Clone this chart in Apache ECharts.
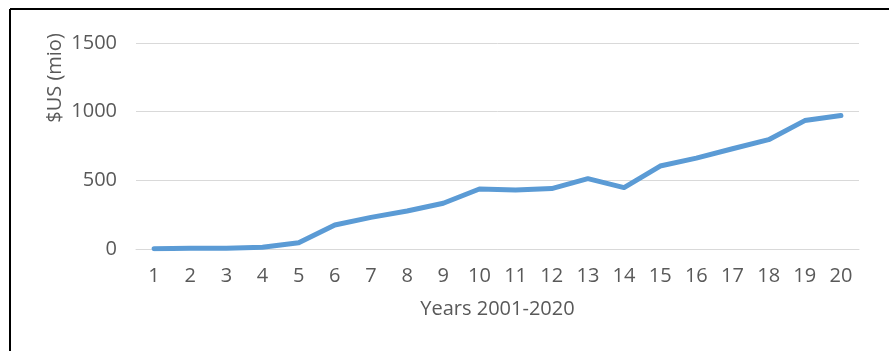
<!DOCTYPE html>
<html>
<head>
<meta charset="utf-8">
<script src="https://cdn.jsdelivr.net/npm/echarts@6/dist/echarts.min.js"></script>
<style>html,body{margin:0;padding:0;background:#fff;}#c{width:889px;height:351px;}</style>
</head>
<body>
<div id="c"></div>
<script>
const categories = ['1','2','3','4','5','6','7','8','9','10','11','12','13','14','15','16','17','18','19','20'];
const values = [2, 5, 5, 12, 45, 175, 230, 277, 333, 437, 430, 440, 512, 447, 604, 662, 730, 796, 935, 972];
const yTicks = { min: 0, max: 1500, interval: 500 };
const yName = '$US (mio)';
const xName = 'Years 2001-2020';

const chart = echarts.init(document.getElementById('c'), null, { renderer: 'canvas' });
const font = '"Open Sans", sans-serif';
const fs = 20;
chart.setOption({
  animation: false,
  backgroundColor: '#fff',
  grid: { left: 136, right: 30, top: 43, bottom: 102 },
  xAxis: {
    type: 'category',
    data: categories,
    boundaryGap: true,
    axisLine: { show: true, lineStyle: { color: '#d9d9d9', width: 1 } },
    axisTick: { show: false },
    axisLabel: { color: '#595959', fontSize: fs, fontFamily: font, margin: 17 },
    name: xName,
    nameLocation: 'middle',
    nameGap: 50,
    nameTextStyle: { color: '#595959', fontSize: fs, fontFamily: font }
  },
  yAxis: {
    type: 'value',
    min: yTicks.min, max: yTicks.max, interval: yTicks.interval,
    axisLine: { show: false },
    axisTick: { show: false },
    splitLine: { lineStyle: { color: '#d9d9d9', width: 1 } },
    axisLabel: { color: '#595959', fontSize: fs, fontFamily: font, margin: 19, formatter: v => String(v) }
  },
  graphic: [
    { type: 'line', shape: { x1: 10, y1: 9, x2: 889, y2: 9 }, style: { stroke: '#000', lineWidth: 2 } },
    { type: 'line', shape: { x1: 10, y1: 9, x2: 10, y2: 351 }, style: { stroke: '#000', lineWidth: 2 } },
    { type: 'text', x: 55, y: 78, rotation: Math.PI / 2,
      style: { text: yName, fill: '#595959', fontSize: fs, fontFamily: font, align: 'center', verticalAlign: 'middle' } }
  ],
  series: [{
    type: 'line',
    data: values,
    symbol: 'none',
    lineStyle: { color: '#5b9bd5', width: 5, cap: 'round', join: 'round' },
    itemStyle: { color: '#5b9bd5' }
  }]
});
</script>
</body>
</html>
